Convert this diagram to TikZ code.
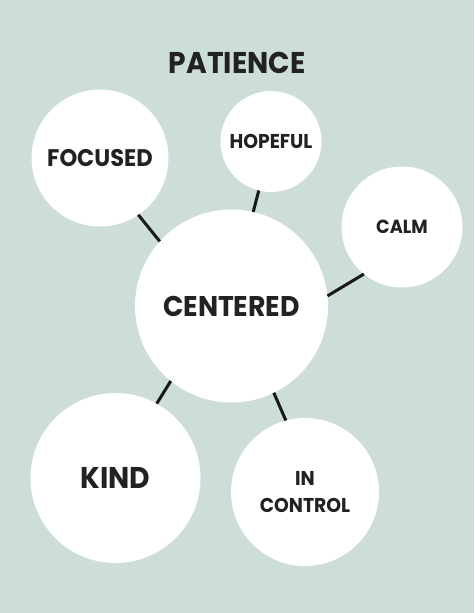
\documentclass[tikz,border=0pt]{standalone}
\usepackage{fontspec}
\setmainfont{Poppins}[BoldFont={* Bold},BoldFeatures={FakeStretch=0.94}]
\definecolor{bgmint}{RGB}{204,222,213}
\definecolor{ink}{RGB}{34,34,34}
\begin{document}
\begin{tikzpicture}[x=1pt,y=-1pt,
  bubble/.style={circle,fill=white,draw=none,inner sep=0pt,outer sep=0pt,text=ink,font=\bfseries,align=center},
  link/.style={draw=ink!70!black,line width=3pt}]
\fill[bgmint] (0,0) rectangle (474,613);
\useasboundingbox (0,0) rectangle (474,613);
\node[text=ink,font=\bfseries\fontsize{30}{36}\selectfont] (title) at (237,62.5) {PATIENCE};
\node[bubble,minimum size=137pt,font=\bfseries\fontsize{24}{28}\selectfont] (focused) at (100,158) {FOCUSED};
\node[bubble,minimum size=101pt,font=\bfseries\fontsize{20}{24}\selectfont] (hopeful) at (271,141.5) {HOPEFUL};
\node[bubble,minimum size=121pt,font=\bfseries\fontsize{19}{24}\selectfont] (calm) at (402,227) {CALM};
\node[bubble,minimum size=193pt,font=\bfseries\fontsize{28.5}{34}\selectfont] (centered) at (231.5,306) {CENTERED};
\node[bubble,minimum size=170pt,font=\bfseries\fontsize{30}{36}\selectfont] (kind) at (115.5,478) {KIND};
\node[bubble,minimum size=148pt,font=\bfseries\fontsize{20}{27}\selectfont] (incontrol) at (305,492) {IN\\CONTROL};
\draw[link] (focused.-56) -- (centered.138);
\draw[link] (hopeful.-104) -- (centered.77);
\draw[link] (calm.-129) -- (centered.6);
\draw[link] (kind.61) -- (centered.-129);
\draw[link] (incontrol.105) -- (centered.-64);
\end{tikzpicture}
\end{document}
